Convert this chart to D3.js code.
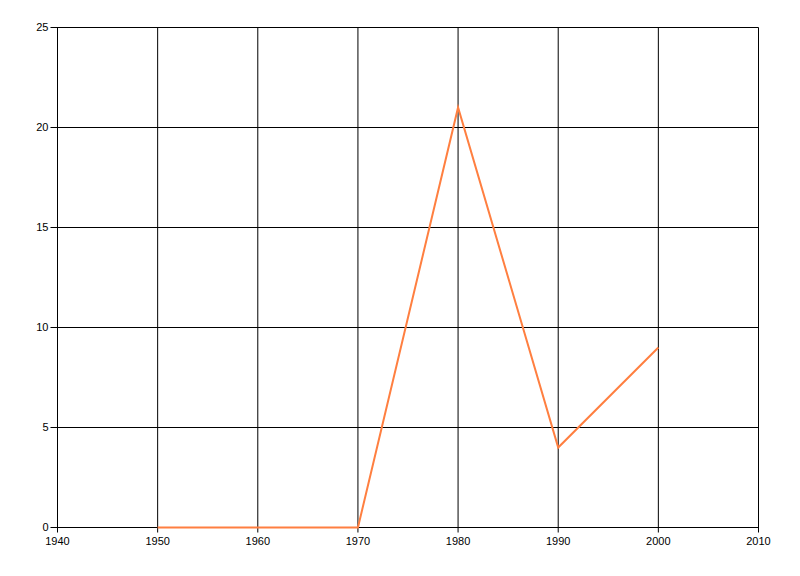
<!DOCTYPE html>
<html><head><meta charset="utf-8">
<script src="https://cdn.jsdelivr.net/npm/d3@7/dist/d3.min.js"></script>
<style>body{margin:0;background:#fff}svg{display:block}</style>
</head><body>
<script>
const years = [1950, 1960, 1970, 1980, 1990, 2000];
const values = [0, 0, 0, 21, 4, 9];
const xTicks = [1940, 1950, 1960, 1970, 1980, 1990, 2000, 2010];
const yTicks = [0, 5, 10, 15, 20, 25];

const W = 800, H = 576;
const svg = d3.select("body").append("svg").attr("width", W).attr("height", H);
const x = d3.scaleLinear().domain([1940, 2010]).range([57.5, 758.5]);
const y = d3.scaleLinear().domain([0, 25]).range([527.5, 27.5]);

const font = "'Liberation Sans', Arial, sans-serif";

// grid
svg.append("g").selectAll("line").data(xTicks).join("line")
  .attr("x1", d => x(d)).attr("x2", d => x(d))
  .attr("y1", y(25)).attr("y2", y(0) + 5)
  .attr("stroke", "#000").attr("stroke-width", 1);
svg.append("g").selectAll("line").data(yTicks).join("line")
  .attr("x1", x(1940) - 7).attr("x2", x(2010))
  .attr("y1", d => y(d)).attr("y2", d => y(d))
  .attr("stroke", "#000").attr("stroke-width", 1);

// labels
svg.append("g").selectAll("text").data(yTicks).join("text")
  .attr("x", x(1940) - 9).attr("y", d => y(d)).attr("dy", "0.35em")
  .attr("text-anchor", "end").attr("font-family", font).attr("font-size", 11)
  .text(d => d);
svg.append("g").selectAll("text").data(xTicks).join("text")
  .attr("x", d => x(d)).attr("y", y(0) + 14).attr("dy", "0.35em")
  .attr("text-anchor", "middle").attr("font-family", font).attr("font-size", 11)
  .text(d => d);

// line
const line = d3.line().x((d, i) => x(years[i])).y(d => y(d));
svg.append("path").datum(values).attr("d", line)
  .attr("fill", "none").attr("stroke", "#FF7F40").attr("stroke-width", 2);
</script>
</body></html>
